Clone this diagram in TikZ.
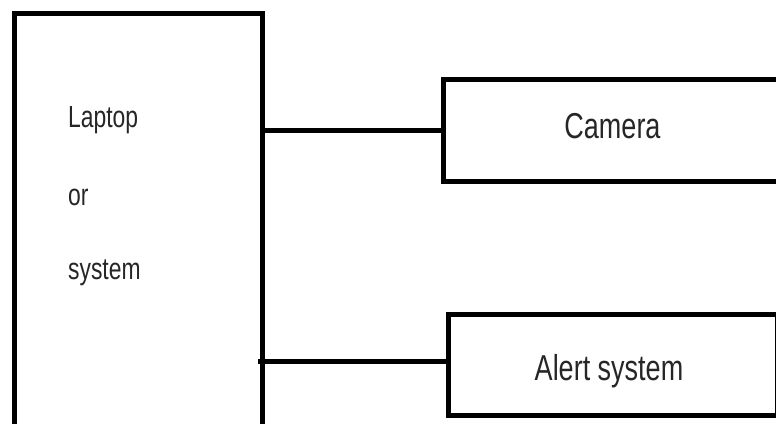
\documentclass[tikz,border=0pt]{standalone}
\usepackage{fontspec}
\setmainfont{Liberation Sans}

\begin{document}
\begin{tikzpicture}[x=1pt,y=-1pt,
  box/.style={draw,line width=5pt,outer sep=0pt,inner sep=0pt,anchor=north west},
  wire/.style={line width=5pt},
  lbl/.style={text=black!85,inner sep=0pt,xscale=.75},
  big/.style={lbl,anchor=base,font=\fontsize{36}{40}\selectfont},
  small/.style={lbl,anchor=base west,font=\fontsize{30.5}{34}\selectfont}]
  \useasboundingbox (0,0) rectangle (776,423);
  \clip (0,0) rectangle (776,423);
  % blocks
  \path (14.5,13) node[box,minimum width=247.5pt,minimum height=440pt] (laptop) {}
  (443,79) node[box,minimum width=350pt,minimum height=102pt] (camera) {}
  (448,314) node[box,minimum width=329pt,minimum height=101pt] (alert) {};
  % texts
  \path (68,127) node[small] (laptop1) {Laptop} (68,205) node[small] (laptop2) {or}
  (68,279) node[small] (laptop3) {system};
  \path (612.5,138) node[big] (cameratext) {Camera} (609,380) node[big] (alerttext) {Alert system};
  % links
  \coordinate (alertin) at ([yshift=3.5pt]alert.west);
  \draw[wire] (laptop.east |- camera.west) -- (camera.west);
  \draw[wire] ([xshift=-4pt]laptop.east |- alertin) -- (alertin);
\end{tikzpicture}
\end{document}
